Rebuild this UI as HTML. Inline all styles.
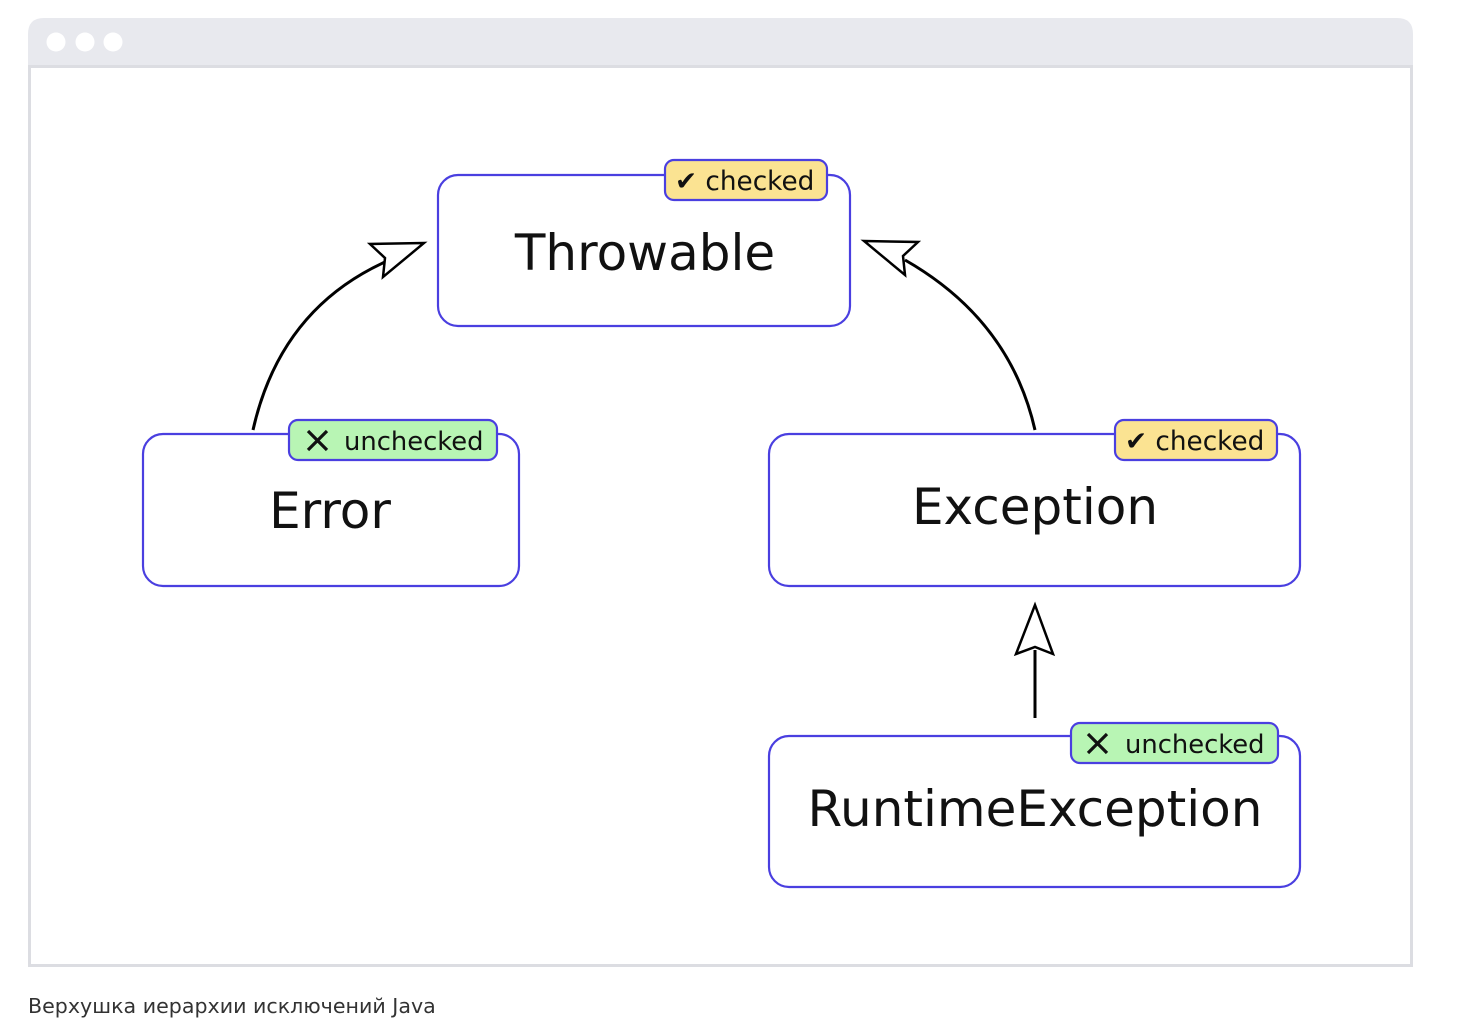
<!DOCTYPE html>
<html><head><meta charset="utf-8"><style>
html,body{margin:0;padding:0;background:#fff;width:1466px;height:1034px;overflow:hidden}
svg{display:block}
</style></head><body>
<svg width="1466" height="1034" viewBox="0 0 1466 1034" xmlns="http://www.w3.org/2000/svg" font-family="'DejaVu Sans','Liberation Sans',sans-serif">
<path d="M28,67 V34 Q28,18 44,18 H1397 Q1413,18 1413,34 V67 Z" fill="#e8e9ee"/>
<rect x="29.5" y="66.5" width="1382" height="899" fill="#fff" stroke="#dcdde2" stroke-width="3"/>
<circle cx="56" cy="42" r="9.5" fill="#fff"/><circle cx="85" cy="42" r="9.5" fill="#fff"/><circle cx="113" cy="42" r="9.5" fill="#fff"/>
<g fill="#fff" stroke="#4a3fe0" stroke-width="2.2">
<rect x="438" y="175" width="412" height="151" rx="20"/>
<rect x="143" y="434" width="376" height="152" rx="20"/>
<rect x="769" y="434" width="531" height="152" rx="20"/>
<rect x="769" y="736" width="531" height="151" rx="20"/>
</g>
<g stroke="#4a3fe0" stroke-width="2.2">
<rect x="665" y="160" width="162" height="40" rx="9" fill="#fbe392"/>
<rect x="289" y="420" width="208" height="40" rx="9" fill="#b8f5b4"/>
<rect x="1115" y="420" width="162" height="40" rx="9" fill="#fbe392"/>
<rect x="1071" y="723" width="207" height="40" rx="9" fill="#b8f5b4"/>
</g>
<g font-size="26.3" fill="#111">
<text x="675" y="190">✔ checked</text>
<text x="1125" y="450">✔ checked</text>
</g>
<g font-size="25.8" fill="#111">
<text x="344" y="450">unchecked</text>
<text x="1125" y="753">unchecked</text>
</g>
<g stroke="#111" stroke-width="3.2">
<path d="M308,431 L327,450 M327,431 L308,450"/>
<path d="M1088,734 L1107,753 M1107,734 L1088,753"/>
</g>
<g font-size="50" fill="#111" text-anchor="middle">
<text x="645" y="270">Throwable</text>
<text x="330" y="528">Error</text>
<text x="1035" y="524">Exception</text>
<text x="1035" y="826">RuntimeException</text>
</g>
<g fill="none" stroke="#000" stroke-width="3">
<path d="M253,430 Q280,310 385,262"/>
<path d="M1035,430 Q1010,320 905,260"/>
<path d="M1035,718 V650"/>
</g>
<g fill="#fff" stroke="#000" stroke-width="2.5" stroke-linejoin="miter">
<path d="M424,243 L370,244 L385,258 L383,277 Z"/>
<path d="M864,241 L918,242 L903,256 L905,275 Z"/>
<path d="M1035,605 L1016,654 L1035,647 L1053,654 Z"/>
</g>
<text x="28" y="1013" font-size="20.6" fill="#333">Верхушка иерархии исключений Java</text>
</svg>
</body></html>
